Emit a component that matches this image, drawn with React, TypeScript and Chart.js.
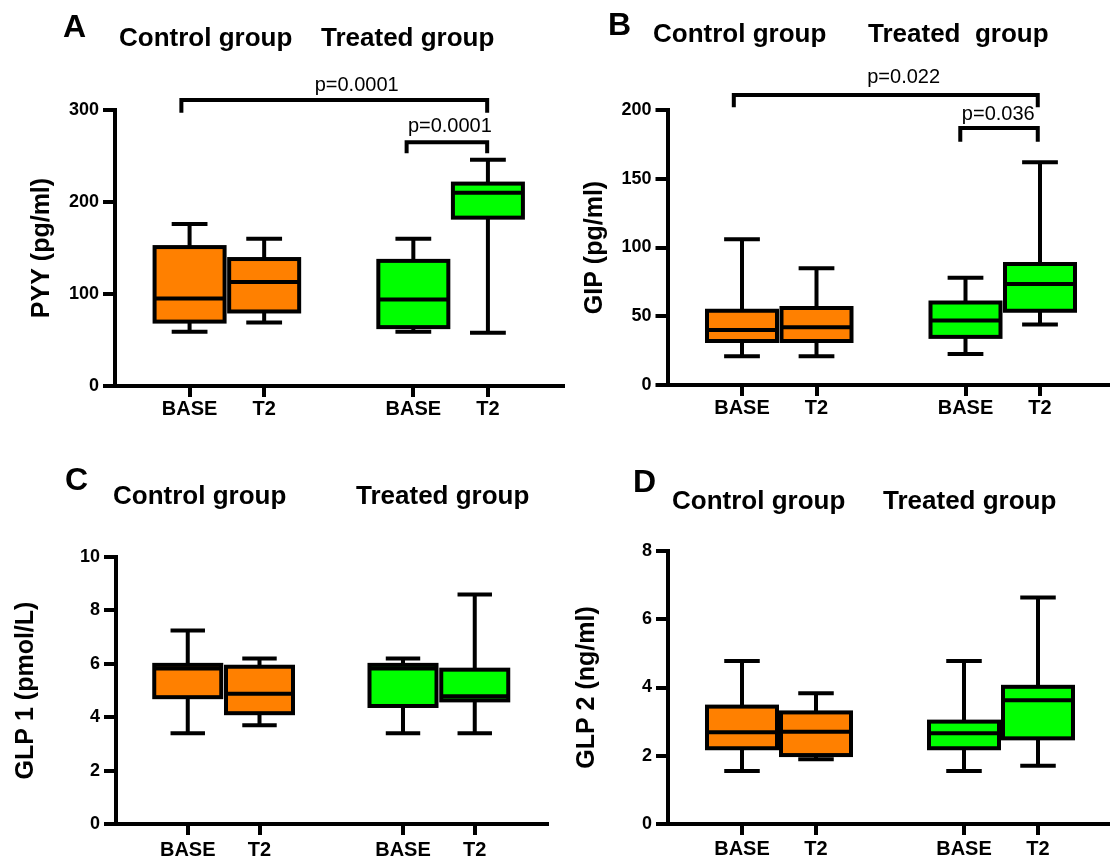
import React, { useEffect, useRef } from 'react';
import { Chart, registerables } from 'chart.js';

Chart.register(...registerables);

const FONT = '"Liberation Sans", Arial, Helvetica, sans-serif';

// Shared categories (x positions on a linear axis: gap slot between groups)
const CATEGORY_LABELS = ['BASE', 'T2', 'BASE', 'T2'];
const CATEGORY_POS = [0, 1, 3, 4];
const BOX_COLORS = ['#FF8000', '#FF8000', '#00FF00', '#00FF00'];

// Panel A – PYY (pg/ml)
const PYY_MIN = [59, 69, 59, 58];
const PYY_Q1 = [70, 81, 64, 183];
const PYY_MED = [95, 113, 94, 210];
const PYY_Q3 = [151, 138, 136, 220];
const PYY_MAX = [176, 160, 160, 246];
// [x1, x2, yTop, yLeg, label, labelX, labelY]
const PYY_BRACKETS: [number, number, number, number, string, number, number][] = [
  [-0.11, 3.99, 311, 297, 'p=0.0001', 2.24, 321],
  [2.91, 3.99, 265, 253, 'p=0.0001', 3.49, 276],
];

// Panel B – GIP (pg/ml)
const GIP_MIN = [21, 21, 22.5, 44];
const GIP_Q1 = [32, 32, 35, 54];
const GIP_MED = [40, 42, 47, 73.5];
const GIP_Q3 = [54, 56, 60, 88];
const GIP_MAX = [106, 85, 78, 162];
const GIP_BRACKETS: [number, number, number, number, string, number, number][] = [
  [-0.11, 3.97, 211, 202, 'p=0.022', 2.17, 219.6],
  [2.93, 3.97, 187, 177, 'p=0.036', 3.44, 192.7],
];

// Panel C – GLP 1 (pmol/L)
const GLP1_MIN = [3.4, 3.7, 3.4, 3.4];
const GLP1_Q1 = [4.75, 4.15, 4.42, 4.63];
const GLP1_MED = [5.82, 4.88, 5.82, 4.78];
const GLP1_Q3 = [5.96, 5.89, 5.96, 5.78];
const GLP1_MAX = [7.25, 6.2, 6.2, 8.6];

// Panel D – GLP 2 (ng/ml)
const GLP2_MIN = [1.55, 1.9, 1.55, 1.71];
const GLP2_Q1 = [2.22, 2.02, 2.22, 2.51];
const GLP2_MED = [2.69, 2.7, 2.66, 3.63];
const GLP2_Q3 = [3.44, 3.27, 3.0, 4.02];
const GLP2_MAX = [4.78, 3.83, 4.78, 6.64];

type Bracket = [number, number, number, number, string, number, number];

interface Panel {
  key: string;
  left: number;
  top: number;
  width: number;
  height: number;
  letter: [string, number, number];
  groups: [string, number, number][];
  yTitle: string;
  yTitlePad: number;
  yMax: number;
  yStep: number;
  areaTop: number;
  yAxisWidth: number;
  xAxisHeight: number;
  padRight: number;
  barThickness: number;
  xLabelPad: number;
  min: number[];
  q1: number[];
  med: number[];
  q3: number[];
  max: number[];
  brackets: Bracket[];
}

const PANELS: Panel[] = [
  {
    key: 'A', left: 0, top: 0, width: 565, height: 430,
    letter: ['A', 63, 37],
    groups: [['Control group', 119, 46], ['Treated group', 321, 46]],
    yTitle: 'PYY (pg/ml)', yTitlePad: 27, yMax: 300, yStep: 100,
    areaTop: 110, yAxisWidth: 115, xAxisHeight: 44, padRight: 2.5,
    barThickness: 70, xLabelPad: 0,
    min: PYY_MIN, q1: PYY_Q1, med: PYY_MED, q3: PYY_Q3, max: PYY_MAX,
    brackets: PYY_BRACKETS,
  },
  {
    key: 'B', left: 555, top: 0, width: 560, height: 430,
    letter: ['B', 53, 35],
    groups: [['Control group', 98, 42], ['Treated  group', 313, 42]],
    yTitle: 'GIP (pg/ml)', yTitlePad: 25, yMax: 200, yStep: 50,
    areaTop: 110, yAxisWidth: 112.5, xAxisHeight: 45, padRight: 0.5,
    barThickness: 70, xLabelPad: 0,
    min: GIP_MIN, q1: GIP_Q1, med: GIP_MED, q3: GIP_Q3, max: GIP_MAX,
    brackets: GIP_BRACKETS,
  },
  {
    key: 'C', left: 0, top: 430, width: 555, height: 431,
    letter: ['C', 65, 60],
    groups: [['Control group', 113, 74], ['Treated group', 356, 74]],
    yTitle: 'GLP 1 (pmol/L)', yTitlePad: 11, yMax: 10, yStep: 2,
    areaTop: 127, yAxisWidth: 116, xAxisHeight: 37, padRight: 8.5,
    barThickness: 67, xLabelPad: 3,
    min: GLP1_MIN, q1: GLP1_Q1, med: GLP1_MED, q3: GLP1_Q3, max: GLP1_MAX,
    brackets: [],
  },
  {
    key: 'D', left: 555, top: 430, width: 560, height: 431,
    letter: ['D', 78, 62],
    groups: [['Control group', 117, 79], ['Treated group', 328, 79]],
    yTitle: 'GLP 2 (ng/ml)', yTitlePad: 17, yMax: 8, yStep: 2,
    areaTop: 121, yAxisWidth: 113, xAxisHeight: 37, padRight: 3,
    barThickness: 70, xLabelPad: 2,
    min: GLP2_MIN, q1: GLP2_Q1, med: GLP2_MED, q3: GLP2_Q3, max: GLP2_MAX,
    brackets: [],
  },
];

const CAP_WIDTH = 0.48; // in x-axis units

const boxPlotExtras = {
  id: 'boxPlotExtras',
  beforeDatasetsDraw(chart: any, _args: any, opts: any) {
    const { ctx, scales } = chart;
    const x = scales.x;
    const y = scales.y;
    ctx.save();
    ctx.strokeStyle = '#000';
    ctx.lineWidth = 4;
    ctx.lineCap = 'butt';
    CATEGORY_POS.forEach((pos, i) => {
      const cx = x.getPixelForValue(pos);
      const half = Math.abs(x.getPixelForValue(pos + CAP_WIDTH / 2) - cx);
      const pMin = y.getPixelForValue(opts.min[i]);
      const pMax = y.getPixelForValue(opts.max[i]);
      const pQ1 = y.getPixelForValue(opts.q1[i]);
      const pQ3 = y.getPixelForValue(opts.q3[i]);
      ctx.beginPath();
      ctx.moveTo(cx, pQ3);
      ctx.lineTo(cx, pMax);
      ctx.moveTo(cx - half, pMax);
      ctx.lineTo(cx + half, pMax);
      ctx.moveTo(cx, pQ1);
      ctx.lineTo(cx, pMin);
      ctx.moveTo(cx - half, pMin);
      ctx.lineTo(cx + half, pMin);
      ctx.stroke();
    });
    ctx.restore();
  },
  afterDatasetsDraw(chart: any, _args: any, opts: any) {
    const { ctx, scales } = chart;
    const y = scales.y;
    const meta = chart.getDatasetMeta(0);
    ctx.save();
    ctx.strokeStyle = '#000';
    ctx.lineWidth = 4;
    ctx.lineJoin = 'miter';
    meta.data.forEach((bar: any, i: number) => {
      const { x: bx, y: by, base, width } = bar.getProps(['x', 'y', 'base', 'width'], true);
      const top = Math.min(by, base);
      const bottom = Math.max(by, base);
      ctx.strokeRect(bx - width / 2, top, width, bottom - top);
      const pMed = y.getPixelForValue(opts.med[i]);
      ctx.beginPath();
      ctx.moveTo(bx - width / 2, pMed);
      ctx.lineTo(bx + width / 2, pMed);
      ctx.stroke();
    });
    ctx.restore();
  },
  afterDraw(chart: any, _args: any, opts: any) {
    const { ctx, scales } = chart;
    const x = scales.x;
    const y = scales.y;
    ctx.save();
    ctx.fillStyle = '#000';
    ctx.textBaseline = 'alphabetic';
    ctx.textAlign = 'left';
    const [letter, lx, ly] = opts.letter;
    ctx.font = `bold 32px ${FONT}`;
    ctx.fillText(letter, lx, ly);
    ctx.font = `bold 26px ${FONT}`;
    opts.groups.forEach(([t, gx, gy]: [string, number, number]) => ctx.fillText(t, gx, gy));

    ctx.strokeStyle = '#000';
    ctx.lineWidth = 4;
    ctx.lineJoin = 'miter';
    ctx.lineCap = 'butt';
    ctx.textAlign = 'center';
    ctx.font = `20px ${FONT}`;
    opts.brackets.forEach((b: Bracket) => {
      const [x1, x2, yTop, yLeg, label, tx, ty] = b;
      const px1 = x.getPixelForValue(x1);
      const px2 = x.getPixelForValue(x2);
      const pTop = y.getPixelForValue(yTop);
      const pLeg = y.getPixelForValue(yLeg);
      ctx.beginPath();
      ctx.moveTo(px1, pLeg);
      ctx.lineTo(px1, pTop);
      ctx.lineTo(px2, pTop);
      ctx.lineTo(px2, pLeg);
      ctx.stroke();
      ctx.fillText(label, x.getPixelForValue(tx), y.getPixelForValue(ty));
    });
    ctx.restore();
  },
};

function makeConfig(p: Panel): any {
  return {
    type: 'bar',
    data: {
      datasets: [
        {
          data: CATEGORY_POS.map((pos, i) => ({ x: pos, y: [p.q1[i], p.q3[i]] })),
          backgroundColor: BOX_COLORS,
          borderWidth: 0,
          borderSkipped: false,
          inflateAmount: 0,
          barThickness: p.barThickness,
        },
      ],
    },
    options: {
      responsive: false,
      animation: false,
      devicePixelRatio: 1,
      events: [],
      layout: { padding: { top: p.areaTop, left: 0, right: p.padRight, bottom: 0 } },
      plugins: {
        legend: { display: false },
        tooltip: { enabled: false },
        title: { display: false },
        boxPlotExtras: {
          min: p.min, q1: p.q1, med: p.med, q3: p.q3, max: p.max,
          letter: p.letter, groups: p.groups, brackets: p.brackets,
        },
      },
      scales: {
        x: {
          type: 'linear',
          min: -1,
          max: 5,
          offset: false,
          afterBuildTicks: (s: any) => {
            s.ticks = CATEGORY_POS.map((v) => ({ value: v }));
          },
          afterFit: (s: any) => {
            s.height = p.xAxisHeight;
          },
          grid: {
            display: true,
            offset: false,
            drawOnChartArea: false,
            drawTicks: true,
            tickLength: 11,
            tickWidth: 4,
            lineWidth: 4,
            color: '#000',
          },
          border: { display: true, color: '#000', width: 4 },
          ticks: {
            autoSkip: false,
            maxRotation: 0,
            minRotation: 0,
            padding: p.xLabelPad,
            color: '#000',
            font: { family: FONT, size: 20, weight: 'bold' },
            callback: (_v: any, i: number) => CATEGORY_LABELS[i],
          },
        },
        y: {
          type: 'linear',
          min: 0,
          max: p.yMax,
          afterFit: (s: any) => {
            s.width = p.yAxisWidth;
          },
          grid: {
            display: true,
            drawOnChartArea: false,
            drawTicks: true,
            tickLength: 12,
            tickWidth: 4,
            lineWidth: 4,
            color: '#000',
          },
          border: { display: true, color: '#000', width: 4 },
          ticks: {
            stepSize: p.yStep,
            padding: 4,
            color: '#000',
            font: { family: FONT, size: 18, weight: 'bold' },
          },
          title: {
            display: true,
            text: p.yTitle,
            color: '#000',
            font: { family: FONT, size: 25, weight: 'bold' },
            padding: { top: p.yTitlePad, bottom: 0 },
          },
        },
      },
    },
    plugins: [boxPlotExtras],
  };
}

function PanelChart({ p }: { p: Panel }) {
  const ref = useRef<HTMLCanvasElement>(null);
  useEffect(() => {
    if (!ref.current) return;
    const chart = new Chart(ref.current, makeConfig(p));
    return () => chart.destroy();
  }, [p]);
  return (
    <canvas
      ref={ref}
      width={p.width}
      height={p.height}
      style={{ position: 'absolute', left: p.left, top: p.top, width: p.width, height: p.height }}
    />
  );
}

export default function App() {
  return (
    <div
      style={{
        position: 'absolute',
        left: 0,
        top: 0,
        width: 1110,
        height: 861,
        overflow: 'hidden',
        background: '#fff',
      }}
    >
      {PANELS.map((p) => (
        <PanelChart key={p.key} p={p} />
      ))}
    </div>
  );
}
